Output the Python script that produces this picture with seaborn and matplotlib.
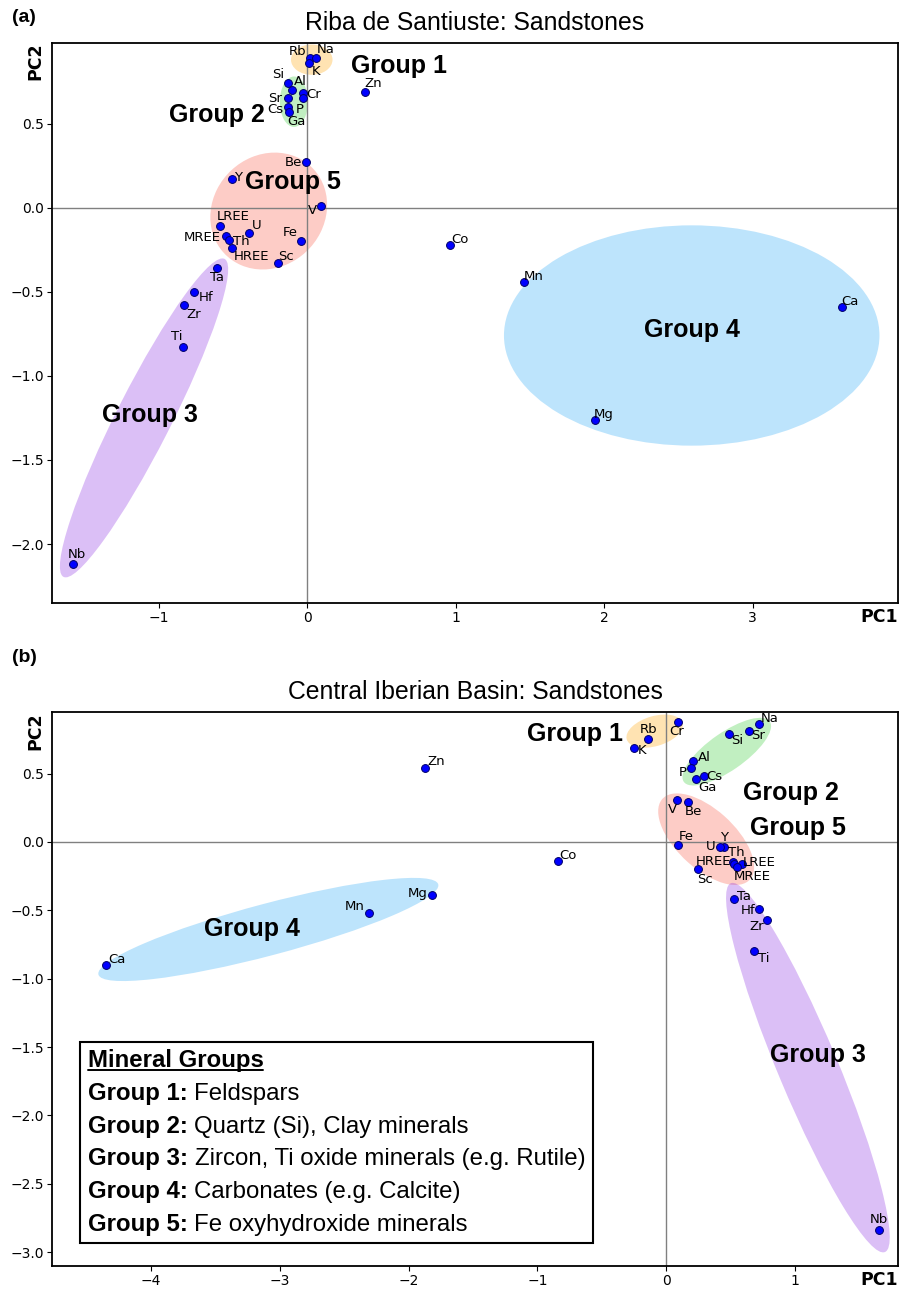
import pandas as pd
import numpy as np
import matplotlib
matplotlib.use('Agg')
import matplotlib.pyplot as plt
import seaborn as sns
from matplotlib.patches import Ellipse
from matplotlib.lines import Line2D
from matplotlib.offsetbox import TextArea, HPacker, VPacker, AnchoredOffsetbox

# ---- panel (a): Riba de Santiuste ----
a_elements = ['Rb', 'Na', 'K', 'Si', 'Al', 'Sr', 'Cr', 'P', 'Cs', 'Ga', 'Zn',
              'Be', 'Y', 'V', 'LREE', 'U', 'MREE', 'Th', 'HREE', 'Fe', 'Sc',
              'Ta', 'Hf', 'Zr', 'Ti', 'Nb', 'Co', 'Mn', 'Ca', 'Mg']
a_pc1 = [0.02, 0.06, 0.01, -0.13, -0.10, -0.13, -0.03, -0.03, -0.13, -0.12, 0.39,
         -0.01, -0.51, 0.09, -0.59, -0.39, -0.55, -0.53, -0.51, -0.04, -0.20,
         -0.61, -0.76, -0.83, -0.84, -1.58, 0.96, 1.46, 3.60, 1.94]
a_pc2 = [0.89, 0.89, 0.86, 0.74, 0.70, 0.65, 0.68, 0.65, 0.60, 0.57, 0.69,
         0.27, 0.17, 0.01, -0.11, -0.15, -0.17, -0.19, -0.24, -0.20, -0.33,
         -0.36, -0.50, -0.58, -0.83, -2.12, -0.22, -0.44, -0.59, -1.26]

# ---- panel (b): Central Iberian Basin ----
b_elements = ['Cr', 'Rb', 'K', 'Si', 'Sr', 'Na', 'Al', 'P', 'Cs', 'Ga', 'V', 'Be',
              'Fe', 'Y', 'U', 'Th', 'HREE', 'LREE', 'MREE', 'Sc', 'Ta', 'Hf', 'Zr',
              'Ti', 'Nb', 'Zn', 'Co', 'Mg', 'Mn', 'Ca']
b_pc1 = [0.09, -0.14, -0.25, 0.49, 0.64, 0.72, 0.21, 0.19, 0.29, 0.23, 0.08, 0.17,
         0.09, 0.45, 0.42, 0.52, 0.53, 0.59, 0.55, 0.25, 0.53, 0.72, 0.78,
         0.68, 1.65, -1.87, -0.84, -1.82, -2.31, -4.35]
b_pc2 = [0.88, 0.75, 0.69, 0.79, 0.81, 0.86, 0.59, 0.54, 0.48, 0.46, 0.31, 0.29,
         -0.02, -0.04, -0.04, -0.15, -0.16, -0.16, -0.18, -0.20, -0.42, -0.49, -0.57,
         -0.80, -2.84, 0.54, -0.14, -0.39, -0.52, -0.90]

# label offsets (points)
a_offsets = {'Rb': (-9, 5), 'Na': (7, 6), 'K': (5, -6), 'Si': (-7, 6), 'Al': (6, 6),
             'Sr': (-9, 0), 'Cr': (8, -1), 'P': (-2, -8), 'Cs': (-9, -2), 'Ga': (5, -7),
             'Zn': (6, 6), 'Be': (-9, 0), 'Y': (5, 1), 'V': (-6, -3), 'LREE': (10, 7),
             'U': (5, 5), 'MREE': (-17, -1), 'Th': (9, -1), 'HREE': (14, -6), 'Fe': (-8, 6),
             'Sc': (6, 5), 'Ta': (0, -7), 'Hf': (8, -4), 'Zr': (7, -7), 'Ti': (-4, 8),
             'Nb': (3, 7), 'Co': (7, 4), 'Mn': (7, 4), 'Ca': (6, 4), 'Mg': (6, 4)}
b_offsets = {'Cr': (-1, -7), 'Rb': (0, 7), 'K': (6, -2), 'Si': (6, -5), 'Sr': (7, -3),
             'Na': (8, 4), 'Al': (8, 3), 'P': (-6, -3), 'Cs': (8, 0), 'Ga': (8, -6),
             'V': (-3, -7), 'Be': (4, -7), 'Fe': (6, 6), 'Y': (0, 7), 'U': (-7, 1),
             'Th': (2, 7), 'HREE': (-15, 2), 'LREE': (12, 1), 'MREE': (11, -7),
             'Sc': (5, -7), 'Ta': (7, 2), 'Hf': (-8, -1), 'Zr': (-7, -5), 'Ti': (7, -5),
             'Nb': (0, 8), 'Zn': (8, 5), 'Co': (7, 4), 'Mg': (-10, 1), 'Mn': (-10, 5),
             'Ca': (8, 4)}

group_colors = {1: ('orange', 0.3), 2: ('limegreen', 0.3), 3: ('blueviolet', 0.3),
                4: ('lightskyblue', 0.55), 5: ('salmon', 0.4)}

# group ellipses: (group, centre x, centre y, width, height, angle)
a_ellipses = [(1, 0.03, 0.88, 0.28, 0.18, 0), (2, -0.09, 0.63, 0.19, 0.30, 0),
              (5, -0.26, -0.02, 0.80, 0.68, 20), (4, 2.59, -0.76, 2.53, 1.31, 0),
              (3, -1.10, -1.25, 2.18, 0.36, 60)]
b_ellipses = [(1, -0.09, 0.81, 0.45, 0.22, 15), (2, 0.47, 0.66, 0.80, 0.28, 33),
              (5, 0.31, 0.02, 0.90, 0.44, -40), (4, -3.09, -0.64, 2.72, 0.38, 14),
              (3, 1.10, -1.65, 2.95, 0.46, -66)]

# group label positions
a_group_labels = [(1, 0.62, 0.84), (2, -0.61, 0.55), (5, -0.10, 0.15), (3, -1.06, -1.23), (4, 2.59, -0.73)]
b_group_labels = [(1, -0.71, 0.79), (2, 0.97, 0.36), (5, 1.02, 0.10), (3, 1.18, -1.56), (4, -3.22, -0.64)]

legend_lines = [('Group 1:', 'Feldspars'), ('Group 2:', 'Quartz (Si), Clay minerals'),
                ('Group 3:', 'Zircon, Ti oxide minerals (e.g. Rutile)'),
                ('Group 4:', 'Carbonates (e.g. Calcite)'),
                ('Group 5:', 'Fe oxyhydroxide minerals')]

sns.set_style('ticks')
plt.rcParams['font.family'] = ['DejaVu Sans']
for k in ['text.color', 'axes.labelcolor', 'xtick.color', 'ytick.color', 'axes.edgecolor']:
    plt.rcParams[k] = 'black'
ARIAL = ['Liberation Sans', 'DejaVu Sans']

fig = plt.figure(figsize=(9.06, 12.91), dpi=100)
ax1 = fig.add_axes([0.0574, 0.533, 0.9338, 0.4338])
ax2 = fig.add_axes([0.0574, 0.0194, 0.9338, 0.4291])


def draw_panel(ax, elements, pc1, pc2, offsets, ellipses, glabels, title, xlim, ylim):
    df = pd.DataFrame({'element': elements, 'PC1': pc1, 'PC2': pc2})
    for g, cx, cy, w, h, ang in ellipses:
        col, al = group_colors[g]
        ax.add_patch(Ellipse((cx, cy), w, h, angle=ang, facecolor=col, alpha=al,
                             edgecolor='none', zorder=1))
    ax.axhline(0, color='grey', lw=1, zorder=1.5)
    ax.axvline(0, color='grey', lw=1, zorder=1.5)
    sns.scatterplot(data=df, x='PC1', y='PC2', ax=ax, color='blue', edgecolor='#000066',
                    s=32, linewidth=0.7, zorder=3, legend=False)
    for _, r in df.iterrows():
        ax.annotate(r['element'], (r['PC1'], r['PC2']), xytext=offsets[r['element']],
                    textcoords='offset points', ha='center', va='center', fontsize=9.5,
                    zorder=4)
    for g, x, y in glabels:
        ax.text(x, y, f'Group {g}', fontsize=18, fontweight='bold', family=ARIAL,
                ha='center', va='center', zorder=4)
    ax.set_xlim(*xlim)
    ax.set_ylim(*ylim)
    ax.set_xlabel('')
    ax.set_ylabel('')
    ax.tick_params(labelsize=10, pad=2.5)
    for sp in ax.spines.values():
        sp.set_linewidth(1.3)
        sp.set_color('black')
    ax.set_title(title, fontsize=17.8, family=ARIAL, pad=9)
    ax.text(1.0, -0.025, 'PC1', transform=ax.transAxes, ha='right', va='center',
            fontsize=12.5, fontweight='bold')
    ax.text(-0.02, 1.0, 'PC2', transform=ax.transAxes, ha='center', va='top',
            rotation=90, fontsize=12.5, fontweight='bold')


draw_panel(ax1, a_elements, a_pc1, a_pc2, a_offsets, a_ellipses, a_group_labels,
           'Riba de Santiuste: Sandstones', (-1.72, 3.98), (-2.35, 0.98))
draw_panel(ax2, b_elements, b_pc1, b_pc2, b_offsets, b_ellipses, b_group_labels,
           'Central Iberian Basin: Sandstones', (-4.77, 1.80), (-3.10, 0.95))
ax1.set_yticks([-2.0, -1.5, -1.0, -0.5, 0.0, 0.5])
ax2.set_yticks([-3.0, -2.5, -2.0, -1.5, -1.0, -0.5, 0.0, 0.5])

fig.text(0.013, 1 - 18 / 1291, '(a)', fontsize=14, fontweight='bold', family=ARIAL, va='center')
fig.text(0.013, 1 - 657 / 1291, '(b)', fontsize=14, fontweight='bold', family=ARIAL, va='center')

# legend box
fs = 17.3
head = TextArea('Mineral Groups', textprops=dict(fontsize=fs, fontweight='bold', family=ARIAL))
rows = [head]
for b, rest in legend_lines:
    rows.append(HPacker(children=[TextArea(b, textprops=dict(fontsize=fs, fontweight='bold', family=ARIAL)),
                                  TextArea(rest, textprops=dict(fontsize=fs, family=ARIAL))],
                        sep=5, pad=0, align='baseline'))
box = VPacker(children=rows, sep=7, pad=0, align='left')
anch = AnchoredOffsetbox(loc='upper left', child=box, pad=0.55, borderpad=0, frameon=True,
                         bbox_to_anchor=(0.033, 0.405), bbox_transform=ax2.transAxes)
anch.patch.set_edgecolor('black')
anch.patch.set_linewidth(1.5)
anch.patch.set_boxstyle('square', pad=0)
anch.zorder = 5
ax2.add_artist(anch)

fig.canvas.draw()
bb = head._text.get_window_extent()
inv = fig.transFigure.inverted()
(x0, y0), (x1, _) = inv.transform([(bb.x0, bb.y0 + 2), (bb.x1, bb.y0 + 2)])
fig.add_artist(Line2D([x0, x1], [y0, y0], transform=fig.transFigure, color='black', lw=1.4, zorder=6))

fig.savefig('out.png', dpi=100)
